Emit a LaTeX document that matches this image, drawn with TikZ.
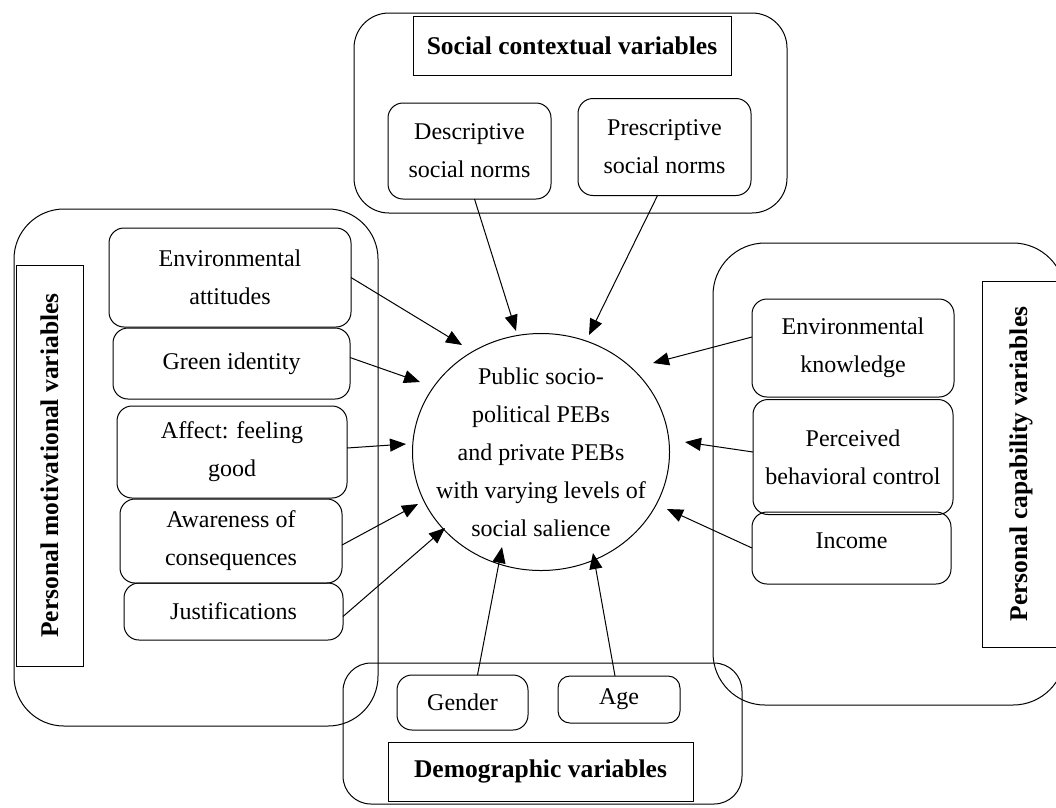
\documentclass[tikz,border=0pt]{standalone}
\usepackage{fontspec}
\setmainfont{Liberation Serif}
\usetikzlibrary{arrows.meta,shapes.geometric}
\begin{document}
\begin{tikzpicture}[x=1pt,y=-1pt,
  txt/.style={font=\fontsize{24}{38}\selectfont, align=center, inner sep=0pt},
  box/.style={draw, rounded corners=15pt, inner sep=0pt, outer sep=0pt, line width=1pt, txt},
  grp/.style={draw, line width=1pt, inner sep=0pt, outer sep=0pt},
  lbl/.style={draw, line width=1pt, inner sep=0pt, outer sep=0pt, align=center, font=\fontsize{25.5}{30}\selectfont\bfseries},
  arr/.style={line width=1pt, -{Triangle[length=16pt,width=13pt]}}]
\useasboundingbox (0,0) rectangle (1056,807);

% group frames
\node[grp, rounded corners=50pt, minimum width=364, minimum height=517] (gm) at (196,467.5) {};
\node[grp, rounded corners=35pt, minimum width=433, minimum height=200] (gs) at (570.5,113) {};
\node[grp, rounded corners=52pt, minimum width=352, minimum height=462] (gc) at (889,474) {};
\node[grp, rounded corners=28pt, minimum width=399, minimum height=141] (gd) at (542.5,733.5) {};

% group labels
\node[lbl, rotate=90, minimum width=401, minimum height=67] (lm) at (49.5,465.5) {Personal motivational variables};
\node[lbl, rotate=90, minimum width=366, minimum height=78] (lc) at (1021,464) {Personal capability variables};
\node[lbl, minimum width=318, minimum height=59] (ls) at (572,45.5) {Social contextual variables};
\node[lbl, minimum width=305, minimum height=59] (ld) at (540.5,771.5) {Demographic variables};

% left boxes
\node[box, minimum width=242, minimum height=99] (ea) at (230,277.5) {Environmental\\attitudes};
\node[box, minimum width=237, minimum height=71] (gi) at (231.5,363.5) {Green identity};
\node[box, minimum width=230, minimum height=92] (af) at (232,452) {Affect: feeling\\good};
\node[box, minimum width=222, minimum height=84] (aw) at (231,541) {Awareness of\\consequences};
\node[box, minimum width=219, minimum height=57] (ju) at (233.5,611.5) {Justifications};

% top boxes
\node[box, minimum width=163, minimum height=96] (ds) at (469.5,151) {Descriptive\\social norms};
\node[box, minimum width=173, minimum height=97] (ps) at (664.5,147) {Prescriptive\\social norms};

% right boxes
\node[box, minimum width=202, minimum height=98] (ek) at (853,348) {Environmental\\knowledge};
\node[box, minimum width=200, minimum height=115] (pb) at (853,457) {Perceived\\behavioral control};
\node[box, minimum width=199, minimum height=72] (in) at (851.5,548) {};
\node[txt] (intx) at (851.5,541) {Income};

% bottom boxes
\node[box, minimum width=131, minimum height=55] (ge) at (462.5,702.5) {Gender};
\node[box, rounded corners=12pt, minimum width=122, minimum height=47] (ag) at (619,699.5) {Age};

% centre
\node[draw, ellipse, line width=1pt, minimum width=257, minimum height=237, inner sep=0pt] (c) at (541,452) {};
\node[txt] (ct) at (541,452) {Public socio-\\political PEBs\\and private PEBs\\with varying levels of\\social salience};

% arrow tips
\coordinate (tds) at (516,331);
\coordinate (tps) at (589,335);
\coordinate (tea) at (462,345);
\coordinate (tgi) at (420,382);
\coordinate (taf) at (406,444);
\coordinate (taw) at (418,504);
\coordinate (tju) at (445,528);
\coordinate (tge) at (502,547);
\coordinate (tag) at (593,553);
\coordinate (tek) at (653,363);
\coordinate (tpb) at (685,442);
\coordinate (tin) at (667,509);

\draw[arr] ([xshift=5pt]ds.south) -- (tds);
\draw[arr] ([xshift=-7pt]ps.south) -- (tps);
\draw[arr] (ea.east) -- (tea);
\draw[arr] ([yshift=6pt]gi.east) -- (tgi);
\draw[arr] ([yshift=4pt]af.east) -- (taf);
\draw[arr] ([yshift=-4pt]aw.east) -- (taw);
\draw[arr] ([yshift=-5pt]ju.east) -- (tju);
\draw[arr] ([xshift=15pt]ge.north) -- (tge);
\draw[arr] ([xshift=-4pt]ag.north) -- (tag);
\draw[arr] ([yshift=11pt]ek.west) -- (tek);
\draw[arr] ([yshift=5pt]pb.west) -- (tpb);
\draw[arr] (in.west) -- (tin);
\end{tikzpicture}
\end{document}
